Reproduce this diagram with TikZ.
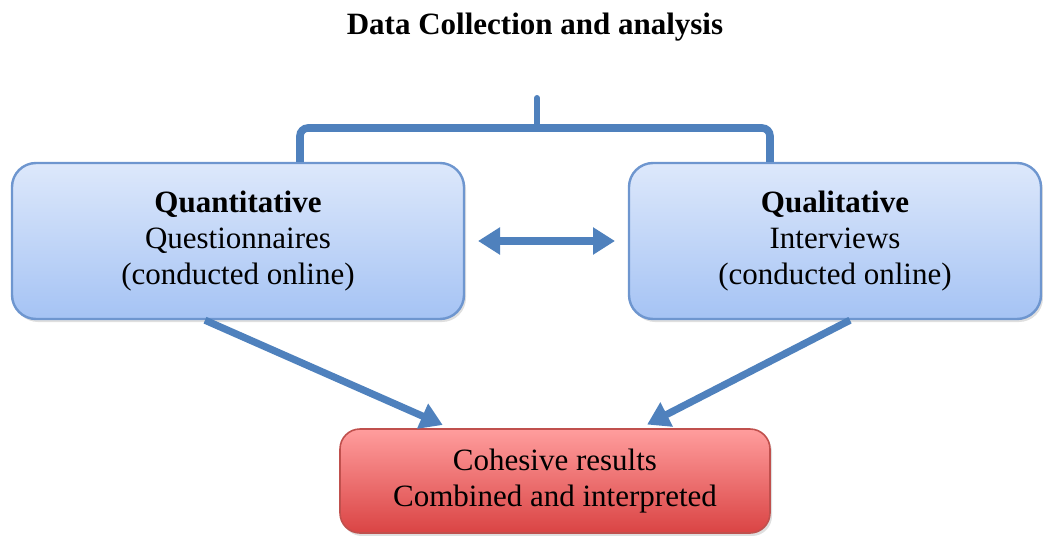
\documentclass[tikz,border=0pt]{standalone}
\usepackage{fontspec}
\setmainfont{Liberation Serif}
\usetikzlibrary{arrows.meta,shadows}
\definecolor{boxtop}{HTML}{DDE8FB}
\definecolor{boxbot}{HTML}{A5C3F4}
\definecolor{boxline}{HTML}{6E96CF}
\definecolor{restop}{HTML}{FF9D9D}
\definecolor{resbot}{HTML}{DA4444}
\definecolor{resline}{HTML}{C0504D}
\definecolor{linkblue}{HTML}{4F81BD}
\tikzset{
  method/.style={draw=boxline, line width=1.2pt, rounded corners=12pt,
    top color=boxtop, bottom color=boxbot, align=center,
    minimum width=226pt, minimum height=78pt,
    drop shadow={opacity=0.25, shadow xshift=1pt, shadow yshift=-1.5pt}},
  result/.style={draw=resline, line width=0.8pt, rounded corners=10pt,
    top color=restop, bottom color=resbot, align=center,
    minimum width=215pt, minimum height=52pt,
    drop shadow={opacity=0.25, shadow xshift=1pt, shadow yshift=-1.5pt}},
  link/.style={draw=linkblue, line width=3.6pt,
    -{Triangle[length=11pt, width=13pt]}},
  brace/.style={draw=linkblue, line width=3.8pt, rounded corners=4pt}
}
\begin{document}
\begin{tikzpicture}[x=0.5pt, y=-0.5pt, font=\fontsize{15.5}{18}\selectfont]
  \useasboundingbox (0,0) rectangle (1043,535);
  \node[font=\fontsize{15.5}{18}\selectfont\bfseries] (title) at (535,27) {Data Collection and analysis};
  \node[method] (quant) at (238,241) {\textbf{Quantitative}\\Questionnaires\\(conducted online)};
  \node[method, minimum width=206pt] (qual) at (835,241) {\textbf{Qualitative}\\Interviews\\(conducted online)};
  \node[result] (res) at (555,481) {Cohesive results\\Combined and interpreted};
  \coordinate (top) at (537,128);
  \draw[brace] (quant.north -| 300,0) |- (top) -| (qual.north -| 770,0);
  \draw[draw=linkblue, line width=3pt, line cap=round] (top) -- (537,98);
  \draw[link, {Triangle[length=11pt, width=13pt]}-{Triangle[length=11pt, width=13pt]}]
    (quant.east -| 478,0) -- (qual.west -| 615,0);
  \draw[link, shorten >=4pt] (quant.south -| 205,0) -- (res.north -| 450,0);
  \draw[link, shorten >=4pt] (qual.south -| 850,0) -- (res.north -| 640,0);
\end{tikzpicture}
\end{document}
